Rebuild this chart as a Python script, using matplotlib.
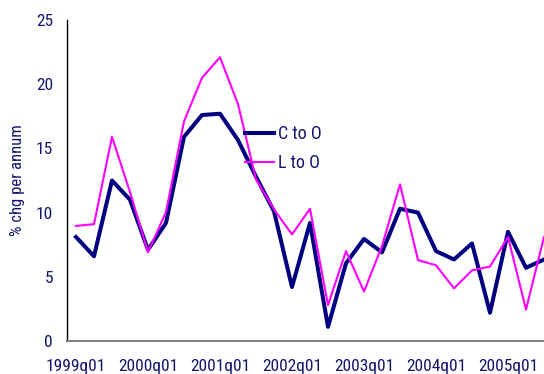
import matplotlib
matplotlib.use("Agg")
import matplotlib.pyplot as plt

# Quarterly growth, % change per annum
quarters = [f"{y}q{q:02d}" for y in range(1999, 2006) for q in range(1, 5)][:27]
c_to_o = [8.1, 6.6, 12.5, 11.0, 7.1, 9.2, 15.9, 17.6, 17.7, 15.65,
          12.8, 10.1, 4.2, 9.2, 1.1, 6.05, 7.95, 6.9, 10.3, 10.0,
          7.0, 6.35, 7.6, 2.2, 8.5, 5.7, 6.35]
l_to_o = [8.96, 9.1, 15.9, 11.6, 6.9, 10.05, 17.1, 20.5, 22.1, 18.45,
          12.6, 10.25, 8.3, 10.3, 2.8, 7.0, 3.85, 7.4, 12.2, 6.3,
          5.9, 4.1, 5.5, 5.8, 8.1, 2.45, 8.1]
series_names = ["C to O", "L to O"]
y_ticks = [0, 5, 10, 15, 20, 25]

plt.rcParams["font.family"] = ["Roboto Condensed", "DejaVu Sans"]

NAVY = "#000080"
TEXT = "#14146e"

fig = plt.figure(figsize=(5.44, 3.74), dpi=100)
ax = fig.add_axes([67 / 544, 33 / 374, 1 - 67 / 544, (341 - 20) / 374])

x = list(range(len(quarters)))
ax.plot(x, c_to_o, color=NAVY, lw=2.9, label=series_names[0])
ax.plot(x, l_to_o, color="#ff00ff", lw=1.5, label=series_names[1])

ax.set_xlim(-0.5, 26.0)
ax.set_ylim(0, 25)
ax.set_yticks(y_ticks)
ax.set_xticks(x[::4])
ax.set_xticklabels(quarters[::4])
ax.tick_params(axis="both", length=0, labelsize=12.5, labelcolor=TEXT)
ax.tick_params(axis="x", pad=13)
ax.tick_params(axis="y", pad=10)

for s in ("top", "right"):
    ax.spines[s].set_visible(False)
ax.spines["left"].set_color("black")
ax.spines["left"].set_linewidth(1.0)
ax.spines["bottom"].set_color("#808080")
ax.spines["bottom"].set_linewidth(1.5)

ax.set_ylabel("% chg per annum", color=TEXT, fontsize=12, labelpad=8)

leg = ax.legend(loc="center left", bbox_to_anchor=(245 / 544, 1 - 148.5 / 374),
                bbox_transform=fig.transFigure, frameon=False, fontsize=13,
                handlelength=1.6, handletextpad=0.2, labelspacing=0.62,
                borderaxespad=0, borderpad=0)
for t in leg.get_texts():
    t.set_color(TEXT)

fig.savefig("out.png", dpi=100)
